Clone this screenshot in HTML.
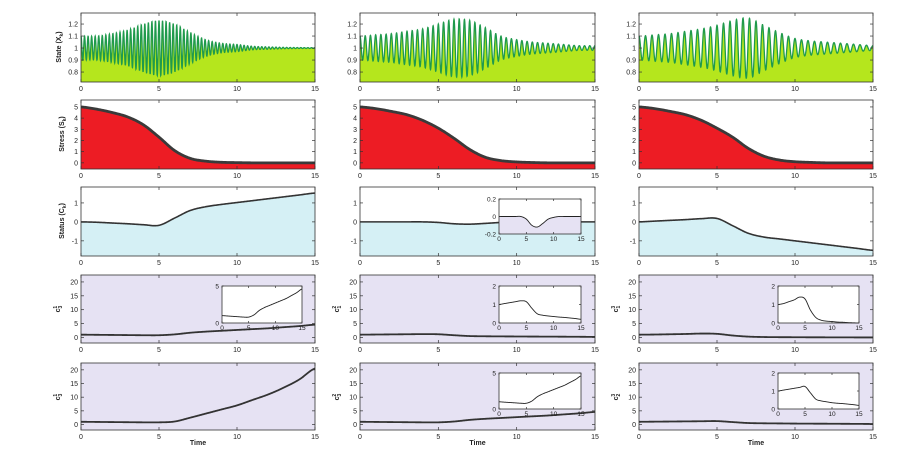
<!DOCTYPE html>
<html><head><meta charset="utf-8"><style>
html,body{margin:0;padding:0;background:#fff;width:900px;height:458px;overflow:hidden}
svg{display:block;font-family:"Liberation Sans",sans-serif}
</style></head><body>
<svg id="fig" width="900" height="458" viewBox="0 0 900 458" xmlns="http://www.w3.org/2000/svg"></svg>
<script>
// ---- data (sampled at t = 0..15) ----
const times = [0,1,2,3,4,5,6,7,8,9,10,11,12,13,14,15];
const stateFreq = [4.4, 3.0, 2.4];
const stateEnv1 = [0.10,0.10,0.12,0.15,0.20,0.23,0.20,0.13,0.07,0.04,0.03,0.015,0.01,0.006,0.004,0.003];
const stateEnv2 = [0.10,0.11,0.12,0.14,0.16,0.20,0.24,0.23,0.17,0.10,0.07,0.05,0.04,0.03,0.02,0.02];
const stateEnv3 = [0.10,0.11,0.12,0.14,0.16,0.19,0.23,0.25,0.19,0.13,0.08,0.06,0.05,0.04,0.03,0.02];
const stress1 = [5,4.8,4.5,4.1,3.4,2.3,1.1,0.4,0.15,0.05,0.02,0,0,0,0,0];
const stress2 = [5,4.85,4.6,4.3,3.8,3.1,2.2,1.2,0.5,0.2,0.08,0.03,0,0,0,0];
const stress3 = [5,4.85,4.6,4.3,3.8,3.1,2.3,1.3,0.6,0.25,0.1,0.04,0,0,0,0];
const status1 = [0,-0.02,-0.06,-0.1,-0.15,-0.18,0.2,0.6,0.8,0.92,1.02,1.12,1.22,1.32,1.42,1.52];
const status2 = [0,0,0,0,0,-0.03,-0.1,-0.12,-0.08,-0.03,-0.01,0,0,0,0,0];
const status3 = [0,0.04,0.08,0.12,0.17,0.18,-0.2,-0.6,-0.8,-0.9,-1,-1.1,-1.2,-1.3,-1.4,-1.5];
const c4a = [1,0.95,0.9,0.85,0.8,0.8,1.1,1.7,2.1,2.4,2.7,3.0,3.3,3.7,4.1,4.6];
const c4b = [1,1.05,1.1,1.15,1.2,1.15,0.8,0.5,0.42,0.38,0.35,0.32,0.3,0.27,0.24,0.2];
const c4c = [1,1.05,1.15,1.25,1.4,1.3,0.7,0.3,0.15,0.1,0.08,0.05,0.04,0.02,0.01,0];
const c5a = [1,0.95,0.9,0.85,0.8,0.8,1.1,2.5,4,5.5,7,9,11,13.5,16.5,20.5];
const c5b = [1,0.95,0.9,0.85,0.8,0.8,1.1,1.7,2.1,2.4,2.7,3.0,3.3,3.7,4.1,4.6];
const c5c = [1,1.05,1.1,1.15,1.2,1.25,0.9,0.55,0.45,0.4,0.35,0.32,0.3,0.27,0.24,0.2];
const xTicks = [0,5,10,15];
const stateTicks = [0.8,0.9,1,1.1,1.2];
const stressTicks = [0,1,2,3,4,5];
const statusTicks = [-1,0,1];
const cTicks = [0,5,10,15,20];

const NS="http://www.w3.org/2000/svg";
const svg=document.getElementById('fig');
function mk(tag,attrs,parent){const e=document.createElementNS(NS,tag);for(const k in attrs)e.setAttribute(k,attrs[k]);(parent||svg).appendChild(e);return e;}
function interp(arr,t){ // Catmull-Rom between samples
  const i=Math.min(Math.floor(t),14),u=t-i;
  const p0=arr[Math.max(i-1,0)],p1=arr[i],p2=arr[i+1],p3=arr[Math.min(i+2,15)];
  return 0.5*((2*p1)+(-p0+p2)*u+(2*p0-5*p1+4*p2-p3)*u*u+(-p0+3*p1-3*p2+p3)*u*u*u);
}
const colX=[[81,315],[360,595],[639,873]];
const rowY=[[13,82],[100,169],[187,256],[275,343],[363,430]];
function axes(x0,x1,y0,y1,ymin,ymax,yt,name,fs){
  const g=mk('g',{});
  
  
  const sx=t=>x0+(t-0)/15*(x1-x0);
  const sy=v=>y1-(v-ymin)/(ymax-ymin)*(y1-y0);
  return {g,sx,sy,x0,x1,y0,y1,ymin,ymax,yt,fs:fs||7};
}
function frame(a,inset){
  const g=a.g;
  const b=mk('rect',{x:a.x0,y:a.y0,width:a.x1-a.x0,height:a.y1-a.y0,fill:'none',stroke:'#333','stroke-width':0.8},g);
  
  
  const tl=inset?2:3;
  xTicks.forEach(t=>{
    const x=a.sx(t);
    mk('line',{x1:x,x2:x,y1:a.y1,y2:a.y1-tl,stroke:'#333','stroke-width':0.7},g);
    mk('line',{x1:x,x2:x,y1:a.y0,y2:a.y0+tl,stroke:'#333','stroke-width':0.7},g);
    const tx=mk('text',{x:x,y:a.y1+(inset?7:9),'font-size':a.fs,'text-anchor':'middle',fill:'#222'},g);
    tx.textContent=t;
    
    
  });
  a.yt.forEach(v=>{
    const y=a.sy(v);
    mk('line',{x1:a.x0,x2:a.x0+tl,y1:y,y2:y,stroke:'#333','stroke-width':0.7},g);
    mk('line',{x1:a.x1,x2:a.x1-tl,y1:y,y2:y,stroke:'#333','stroke-width':0.7},g);
    const tx=mk('text',{x:a.x0-3,y:y+2.5,'font-size':a.fs,'text-anchor':'end',fill:'#222'},g);
    tx.textContent=v;
    
    
  });
}
function curve(a,arr,fill,stroke,sw,name){
  let pts=[];
  for(let k=0;k<=300;k++){const t=k/20;pts.push([a.sx(t),a.sy(interp(arr,t))]);}
  const d='M'+pts.map(p=>p[0].toFixed(2)+','+p[1].toFixed(2)).join('L');
  if(fill){
    const f=mk('path',{d:d+`L${a.x1},${a.y1}L${a.x0},${a.y1}Z`,fill:fill,stroke:'none'},a.g);
    
    
  }
  const l=mk('path',{d:d,fill:'none',stroke:stroke,'stroke-width':sw,'stroke-linejoin':'round'},a.g);
  
  
}
function ylabel(x,y,html,name){
  const t=mk('text',{x:0,y:0,'font-size':7,'font-weight':'bold','text-anchor':'middle',fill:'#222',transform:`translate(${x},${y}) rotate(-90)`});
  t.innerHTML=html;
  
  
}
const envs=[stateEnv1,stateEnv2,stateEnv3];
const stresses=[stress1,stress2,stress3];
const statuses=[status1,status2,status3];
const c4=[c4a,c4b,c4c], c5=[c5a,c5b,c5c];
for(let c=0;c<3;c++){
  const [x0,x1]=colX[c];
  // row1 state
  let a=axes(x0,x1,rowY[0][0],rowY[0][1],0.717,1.292,stateTicks,'state-panel-'+(c+1));
  let pts=[];
  for(let k=0;k<=1500;k++){const t=k/100;const v=1+interp(envs[c],t)*Math.cos(2*Math.PI*stateFreq[c]*t);pts.push([a.sx(t),a.sy(v)]);}
  const d='M'+pts.map(p=>p[0].toFixed(2)+','+p[1].toFixed(2)).join('L');
  let f=mk('path',{d:d+`L${a.x1},${a.y1}L${a.x0},${a.y1}Z`,fill:'#b5e61d'},a.g);
  
  
  let l=mk('path',{d:d,fill:'none',stroke:'#1f9a4c','stroke-width':1.3},a.g);
  
  
  frame(a);
  // row2 stress
  a=axes(x0,x1,rowY[1][0],rowY[1][1],-0.55,5.62,stressTicks,'stress-panel-'+(c+1));
  curve(a,stresses[c],'#ed1c24','#3a3a3a',2.8,'stress');
  frame(a);
  // row3 status
  a=axes(x0,x1,rowY[2][0],rowY[2][1],-1.8,1.84,statusTicks,'status-panel-'+(c+1));
  curve(a,statuses[c],'#d5f0f5','#333',1.6,'status');
  frame(a);
  // row4
  a=axes(x0,x1,rowY[3][0],rowY[3][1],-2,22.5,cTicks,'c-panel-a-'+(c+1));
  const bg=mk('rect',{x:x0,y:a.y0,width:x1-x0,height:a.y1-a.y0,fill:'#e6e2f3'},a.g);
  curve(a,c4[c],null,'#333',1.8,'c-row4');
  frame(a);
  // row5
  a=axes(x0,x1,rowY[4][0],rowY[4][1],-2,22.5,cTicks,'c-panel-b-'+(c+1));
  mk('rect',{x:x0,y:a.y0,width:x1-x0,height:a.y1-a.y0,fill:'#e6e2f3'},a.g);
  curve(a,c5[c],null,'#333',1.8,'c-row5');
  frame(a);
  const tl=mk('text',{x:(x0+x1)/2,y:445,'font-size':7,'font-weight':'bold','text-anchor':'middle',fill:'#222'});
  tl.textContent='Time';
  
  
}
// insets
function inset(x0,x1,y0,y1,ymin,ymax,yt,arr,fill,name){
  const a=axes(x0,x1,y0,y1,ymin,ymax,yt,name,6.5);
  mk('rect',{x:x0,y:y0,width:x1-x0,height:y1-y0,fill:'#fff'},a.g);
  curve(a,arr,fill,'#222',0.9,'inset');
  frame(a,true);
}
inset(222,302,286,323,0,5,[0,5],c4a,null,'inset-c-1');
inset(499,581,199,234,-0.2,0.2,[-0.2,0,0.2],status2,'#e6e2f3','inset-status-2');
inset(499,581,286,323,0,2,[0,1,2],c4b,null,'inset-c-2a');
inset(499,581,373,409,0,5,[0,5],c5b,null,'inset-c-2b');
inset(778,859,286,323,0,2,[0,1,2],c4c,null,'inset-c-3a');
inset(778,859,373,409,0,2,[0,1,2],c5c,null,'inset-c-3b');
// y labels
ylabel(61,47,'State (X<tspan font-size="5" dy="2">k</tspan><tspan dy="-2">)</tspan>','y-axis-title-state');
ylabel(64,134,'Stress (S<tspan font-size="5" dy="2">k</tspan><tspan dy="-2">)</tspan>','y-axis-title-stress');
ylabel(64,221,'Status (C<tspan font-size="5" dy="2">k</tspan><tspan dy="-2">)</tspan>','y-axis-title-status');
ylabel(60,309,'c<tspan font-size="5" dy="2">3</tspan><tspan font-size="5" dy="-5" dx="-3">1</tspan>','y-axis-title-c31');
ylabel(60,397,'c<tspan font-size="5" dy="2">3</tspan><tspan font-size="5" dy="-5" dx="-3">1</tspan>','y-axis-title-c31b');
ylabel(339,309,'c<tspan font-size="5" dy="2">1</tspan><tspan font-size="5" dy="-5" dx="-3">2</tspan>','y-axis-title-c12');
ylabel(339,397,'c<tspan font-size="5" dy="2">3</tspan><tspan font-size="5" dy="-5" dx="-3">2</tspan>','y-axis-title-c32');
ylabel(618,309,'c<tspan font-size="5" dy="2">1</tspan><tspan font-size="5" dy="-5" dx="-3">3</tspan>','y-axis-title-c13');
ylabel(618,397,'c<tspan font-size="5" dy="2">2</tspan><tspan font-size="5" dy="-5" dx="-3">3</tspan>','y-axis-title-c23');
</script>
</body></html>
